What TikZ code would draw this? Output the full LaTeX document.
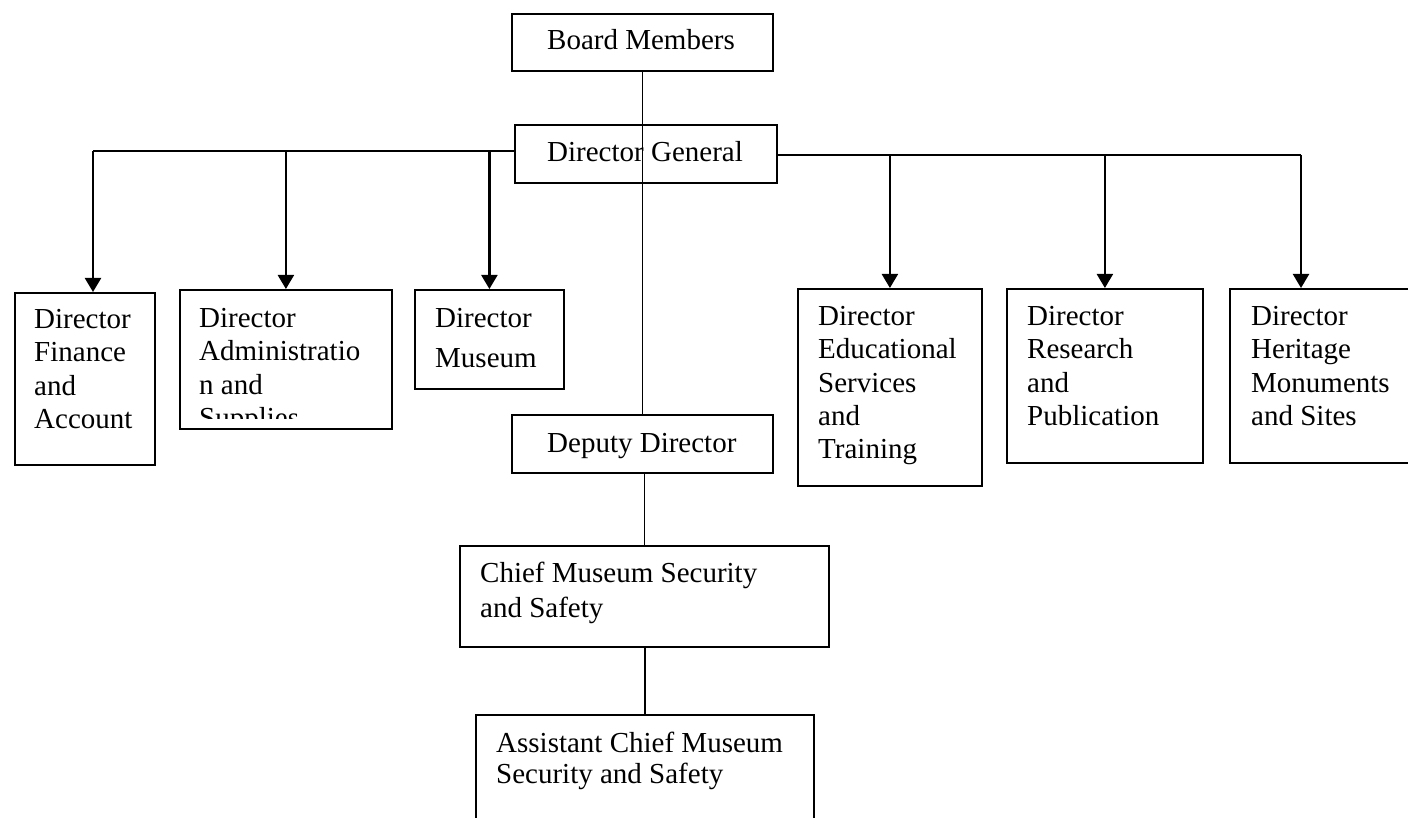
\documentclass[tikz,border=0pt]{standalone}
\usepackage{fontspec}
\setmainfont{Liberation Serif}
\usepackage{tikz}
\usetikzlibrary{arrows.meta,positioning,calc}
\newcommand{\orgfont}{\fontsize{29}{33.5}\selectfont}
\newcommand{\orglines}[1]{\begin{tabular}[t]{@{}l@{}}#1\end{tabular}}
\tikzset{
  obox/.style={draw=black,line width=1.8pt,anchor=north west,inner sep=0pt},
  otext/.style={anchor=base west,inner sep=0pt,font=\orgfont},
  oarr/.style={-{Triangle[length=14pt,width=16pt]},line width=2.2pt,draw=black},
  oline/.style={line width=1.8pt,draw=black}
}

\begin{document}
\begin{tikzpicture}[x=1pt,y=-1pt]
  \useasboundingbox (0,0) rectangle (1408,818);
  % top of the chart
  \node[obox,minimum width=261,minimum height=57] (board) at (511,13) {};
  \node[obox,minimum width=262,minimum height=58] (dg) at (514,124) {};
  \node[otext] (boardtxt) at (547,50) {Board Members};
  \node[otext] (dgtxt) at (547,162) {Director General};
  % directors
  \node[obox,minimum width=140,minimum height=172] (fin) at (14,292) {};
  \node[obox,minimum width=212,minimum height=139] (adm) at (179,289) {};
  \node[obox,minimum width=149,minimum height=99] (mus) at (414,289) {};
  \node[obox,minimum width=184,minimum height=197] (edu) at (797,288) {};
  \node[obox,minimum width=196,minimum height=174] (res) at (1006,288) {};
  \node[obox,minimum width=190,minimum height=174] (her) at (1229,288) {};
  \node[otext] (fintxt) at (34,328) {\orglines{Director\\Finance\\and\\Account}};
  \begin{scope}
    \clip (adm.north west) rectangle ($(adm.south east)+(0,-11)$);
    \node[otext] (admtxt) at (199,327) {\orglines{Director\\Administratio\\n and\\Supplies}};
  \end{scope}
  \node[otext] (mustxt) at (435,327) {\orglines{Director\\[6.5pt]Museum}};
  \node[otext] (edutxt) at (818,325) {\orglines{Director\\Educational\\Services\\and\\Training}};
  \node[otext] (restxt) at (1027,325) {\orglines{Director\\Research\\and\\Publication}};
  \node[otext] (hertxt) at (1251,325) {\orglines{Director\\Heritage\\Monuments\\and Sites}};
  % security line
  \node[obox,minimum width=261,minimum height=58] (dep) at (511,414) {};
  \node[obox,minimum width=369,minimum height=101] (chief) at (459,545) {};
  \node[obox,minimum width=338,minimum height=130] (asst) at (475,714) {};
  \node[otext] (deptxt) at (547,452) {Deputy Director};
  \node[otext] (chieftxt) at (480,582) {\orglines{Chief Museum Security\\[1.5pt]and Safety}};
  \node[otext] (assttxt) at (496,752) {\orglines{Assistant Chief Museum\\[-2.5pt]Security and Safety}};
  % connectors
  \coordinate (lbus) at (93,151);
  \coordinate (rbus) at (1301,155);
  \draw[oline] (board.south) -- (dep.north);
  \draw[oline] (chief.north |- dep.south) -- (chief.north);
  \draw[oline] (asst.north |- chief.south) -- (asst.north);
  \draw[oline] (dg.west |- lbus) -- (lbus);
  \draw[oline] (dg.east |- rbus) -- (rbus);
  \draw[oarr] (lbus) -- (lbus |- fin.north);
  \draw[oarr] (lbus -| adm.north) -- (adm.north);
  \draw[oarr] (lbus -| mus.north) -- (mus.north);
  \draw[oarr] (rbus -| edu.north) -- (edu.north);
  \draw[oarr] (rbus -| res.north) -- (res.north);
  \draw[oarr] (rbus) -- (rbus |- her.north);
\end{tikzpicture}
\end{document}
